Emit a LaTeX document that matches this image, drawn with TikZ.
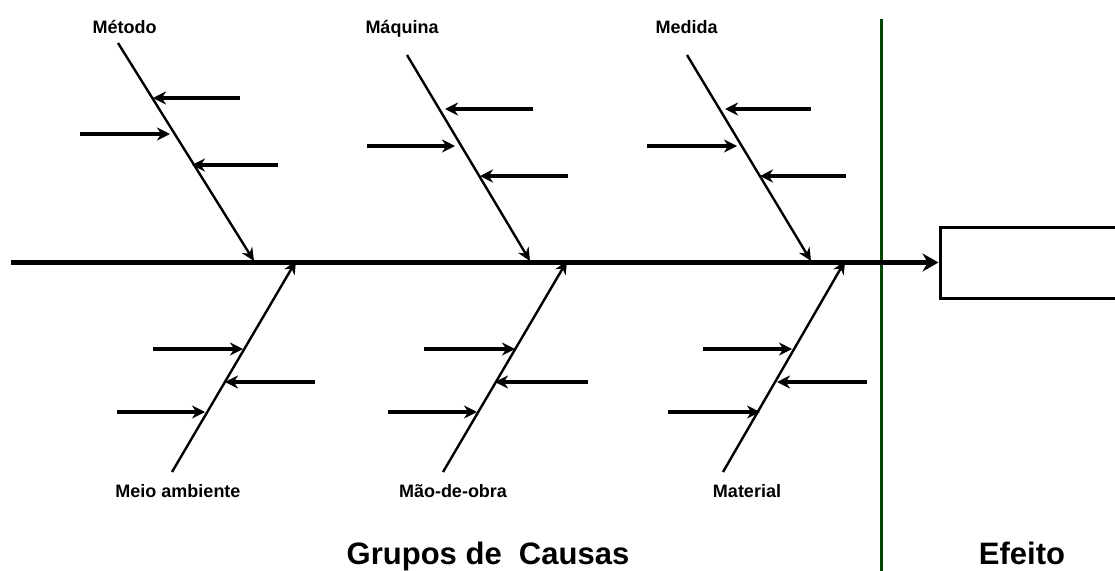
\documentclass[tikz,border=0pt]{standalone}
\usepackage{fontspec}
\setmainfont{Liberation Sans}
\usetikzlibrary{arrows.meta}
\definecolor{sepgreen}{RGB}{0,68,0}
\tikzset{
  bone/.style={line width=2.4pt, -{Stealth[length=13pt,width=12pt]}},
  cause/.style={line width=3.2pt, -{Stealth[length=13pt,width=13pt]}},
  spine/.style={line width=5pt, -{Stealth[length=16pt,width=18pt]}},
  small/.style={font=\bfseries\fontsize{18}{20}\selectfont, anchor=base, inner sep=0pt},
  big/.style={font=\bfseries\fontsize{31}{34}\selectfont, anchor=base, inner sep=0pt},
}
\begin{document}
\begin{tikzpicture}[x=1pt,y=-1pt]
\useasboundingbox (0,0) rectangle (1115,570);
\clip (0,0) rectangle (1115,570);

% labels
\node[small] (lmet) at (124.5,33) {Método};
\node[small] (lmaq) at (402,33) {Máquina};
\node[small] (lmed) at (686.5,33) {Medida};
\node[small] (lmei) at (178,497) {Meio ambiente};
\node[small] (lmao) at (453,497) {Mão-de-obra};
\node[small] (lmat) at (747,497) {Material};
\node[big] (lgru) at (488,564) {Grupos de\ \ Causas};
\node[big] (lefe) at (1022,564) {Efeito};

% effect box
\node[draw, line width=3pt, minimum width=180pt, minimum height=71pt, inner sep=0pt] (box) at (1030,262.5) {};

% separator
\coordinate (gtop) at (881.5,19);
\coordinate (gbot) at (881.5,575);
\draw[sepgreen, line width=3pt] (gtop) -- (gbot);

% spine
\coordinate (s0) at (11,262.5);
\draw[spine] (s0) -- (box.west);

% bones (top)
\coordinate (b1s) at (118,43);  \coordinate (b1e) at (254,261);
\coordinate (b2s) at (407,55);  \coordinate (b2e) at (530,261);
\coordinate (b3s) at (687,55);  \coordinate (b3e) at (811,261);
% bones (bottom)
\coordinate (b4s) at (172,472); \coordinate (b4e) at (296,261);
\coordinate (b5s) at (443,472); \coordinate (b5e) at (567,261);
\coordinate (b6s) at (723,472); \coordinate (b6e) at (845,261);
\foreach \b in {1,...,6} \draw[bone] (b\b s) -- (b\b e);

% causes: Metodo
\coordinate (c11s) at (240,98);  \coordinate (c11e) at (153,98);
\coordinate (c12s) at (80,134);  \coordinate (c12e) at (170,134);
\coordinate (c13s) at (278,165); \coordinate (c13e) at (192,165);
% Maquina
\coordinate (c21s) at (533,109); \coordinate (c21e) at (445,109);
\coordinate (c22s) at (367,146); \coordinate (c22e) at (455,146);
\coordinate (c23s) at (568,176); \coordinate (c23e) at (480,176);
% Medida
\coordinate (c31s) at (811,109); \coordinate (c31e) at (725,109);
\coordinate (c32s) at (647,146); \coordinate (c32e) at (737,146);
\coordinate (c33s) at (846,176); \coordinate (c33e) at (760,176);
% Meio ambiente
\coordinate (c41s) at (153,349); \coordinate (c41e) at (243,349);
\coordinate (c42s) at (315,382); \coordinate (c42e) at (225,382);
\coordinate (c43s) at (117,412); \coordinate (c43e) at (205,412);
% Mao-de-obra
\coordinate (c51s) at (424,349); \coordinate (c51e) at (515,349);
\coordinate (c52s) at (588,382); \coordinate (c52e) at (495,382);
\coordinate (c53s) at (388,412); \coordinate (c53e) at (477,412);
% Material
\coordinate (c61s) at (703,349); \coordinate (c61e) at (792,349);
\coordinate (c62s) at (867,382); \coordinate (c62e) at (777,382);
\coordinate (c63s) at (668,412); \coordinate (c63e) at (760,412);
\foreach \b in {1,...,6}
  \foreach \k in {1,2,3}
    \draw[cause] (c\b\k s) -- (c\b\k e);
\end{tikzpicture}
\end{document}
